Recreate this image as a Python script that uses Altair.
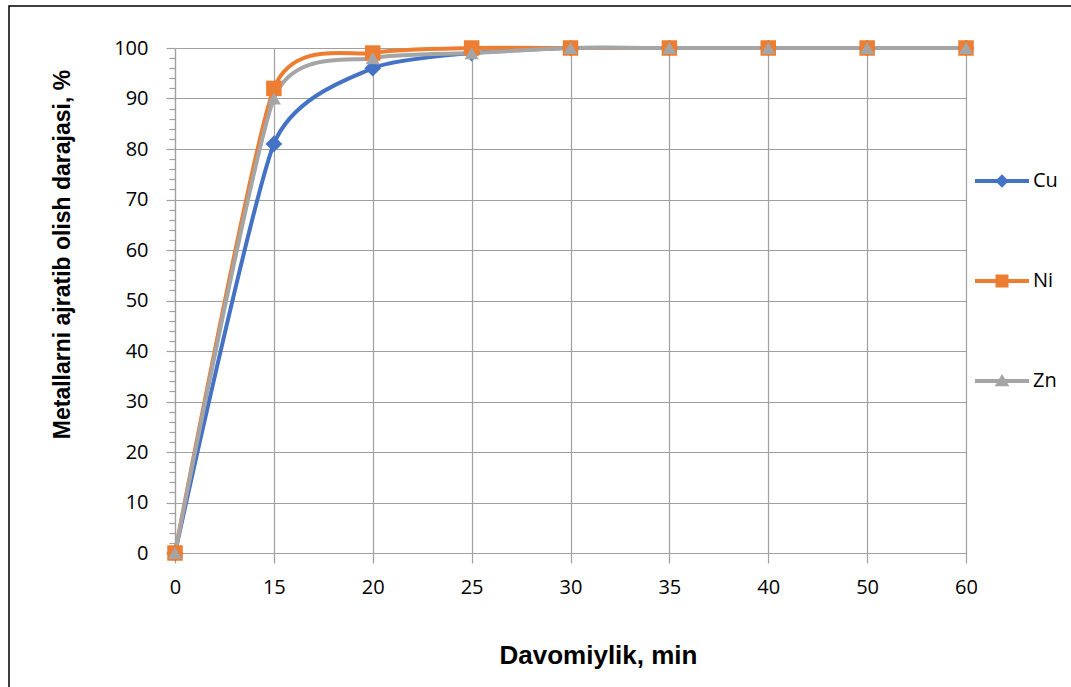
import altair as alt
import pandas as pd

times = ["0", "15", "20", "25", "30", "35", "40", "50", "60"]
cu = [0, 81, 96, 99, 100, 100, 100, 100, 100]
ni = [0, 92, 99, 100, 100, 100, 100, 100, 100]
zn = [0, 90, 98, 99, 100, 100, 100, 100, 100]
metals = ["Cu", "Ni", "Zn"]
colors = ["#4472C4", "#ED7D31", "#A5A5A5"]
marker_shapes = ["diamond", "square", "triangle-up"]
marker_sizes = [280, 200, 260]
legend_shapes = [
    "M-1,-0.075L1,-0.075L1,0.075L-1,0.075Z M0,-0.25L0.25,0L0,0.25L-0.25,0Z",
    "M-1,-0.075L1,-0.075L1,0.075L-1,0.075Z M-0.24,-0.24L0.24,-0.24L0.24,0.24L-0.24,0.24Z",
    "M-1,-0.075L1,-0.075L1,0.075L-1,0.075Z M0,-0.26L0.27,0.19L-0.27,0.19Z",
]

rows = []
for m, vals in zip(metals, [cu, ni, zn]):
    for t, v in zip(times, vals):
        rows.append({"t": t, "v": v, "metal": m})
df = pd.DataFrame(rows)

W, H = 791, 505
GRID = "#A0A0A0"

x_enc = alt.X(
    "t:N",
    sort=times,
    scale=alt.Scale(type="point", padding=0),
    axis=alt.Axis(
        title="Davomiylik, min",
        labelAngle=0,
        labelFont="Open Sans",
        labelFontSize=20,
        labelColor="black",
        labelPadding=14,
        tickSize=10,
        tickColor=GRID,
        tickWidth=1.2,
        domainColor=GRID,
        domainWidth=1.2,
        grid=True,
        gridColor=GRID,
        gridWidth=1.2,
        titleFont="Liberation Sans",
        titleFontWeight="bold",
        titleFontSize=26,
        titleColor="black",
        titleX=423,
        titleY=102,
        titleBaseline="middle",
        titleAlign="center",
    ),
)

y_enc = alt.Y(
    "v:Q",
    scale=alt.Scale(domain=[0, 100], nice=False),
    axis=alt.Axis(
        title="Metallarni ajratib olish darajasi, %",
        values=list(range(0, 101, 2)),
        labelExpr="datum.value % 10 === 0 ? datum.label : ''",
        labelOverlap=False,
        labelFlush=False,
        labelFont="Open Sans",
        labelFontSize=20,
        labelColor="black",
        labelPadding=18,
        tickSize={"condition": {"test": "datum.value % 10 === 0", "value": 9}, "value": 6},
        tickColor=GRID,
        tickWidth=1.2,
        domainColor=GRID,
        domainWidth=1.2,
        grid=True,
        gridColor=GRID,
        gridWidth=1.2,
        gridOpacity={"condition": {"test": "datum.value % 10 === 0", "value": 1}, "value": 0},
        titleFont="Liberation Sans",
        titleFontWeight="bold",
        titleFontSize=23,
        titleColor="black",
        titleX=-113,
        titleY=206,
        titleAngle=270,
        titleBaseline="middle",
        titleAlign="center",
    ),
)

frame = alt.Chart(pd.DataFrame({"a": [0]})).mark_rect(
    fill="transparent", stroke="black", strokeWidth=1.5
).encode(
    x=alt.value(-166), x2=alt.value(940), y=alt.value(-42), y2=alt.value(680)
)

lines = alt.Chart(df).mark_line(interpolate="cardinal", tension=0.4, strokeWidth=4).encode(
    x=x_enc,
    y=y_enc,
    color=alt.Color("metal:N", scale=alt.Scale(domain=metals, range=colors), legend=None),
)

points = alt.Chart(df).mark_point(filled=True, opacity=1).encode(
    x=x_enc,
    y=y_enc,
    color=alt.Color("metal:N", scale=alt.Scale(domain=metals, range=colors), legend=None),
    shape=alt.Shape("metal:N", scale=alt.Scale(domain=metals, range=marker_shapes), legend=None),
    size=alt.Size("metal:N", scale=alt.Scale(domain=metals, range=marker_sizes), legend=None),
)

leg = alt.Legend(
    orient="none",
    legendX=800,
    legendY=106,
    title=None,
    symbolSize=2916,
    symbolStrokeWidth=0,
    symbolOpacity=1,
    labelFont="Open Sans",
    labelFontSize=20,
    labelColor="black",
    labelOffset=4,
    rowPadding=63,
    padding=0,
)

legend_layer = alt.Chart(df).transform_filter("false").mark_point(
    filled=True, opacity=1, size=2916
).encode(
    color=alt.Color("metal:N", scale=alt.Scale(domain=metals, range=colors), legend=leg),
    shape=alt.Shape("metal:N", scale=alt.Scale(domain=metals, range=legend_shapes), legend=leg),
)

chart = alt.layer(frame, lines, points, legend_layer).resolve_scale(
    color="independent", shape="independent", size="independent"
).properties(
    width=W,
    height=H,
    padding={"left": 175, "top": 48, "right": 105, "bottom": 134},
    autosize=alt.AutoSizeParams(type="none"),
    background="white",
).configure_view(stroke="transparent")

chart.save("out.html", embed_options={"renderer": "svg", "actions": False})
